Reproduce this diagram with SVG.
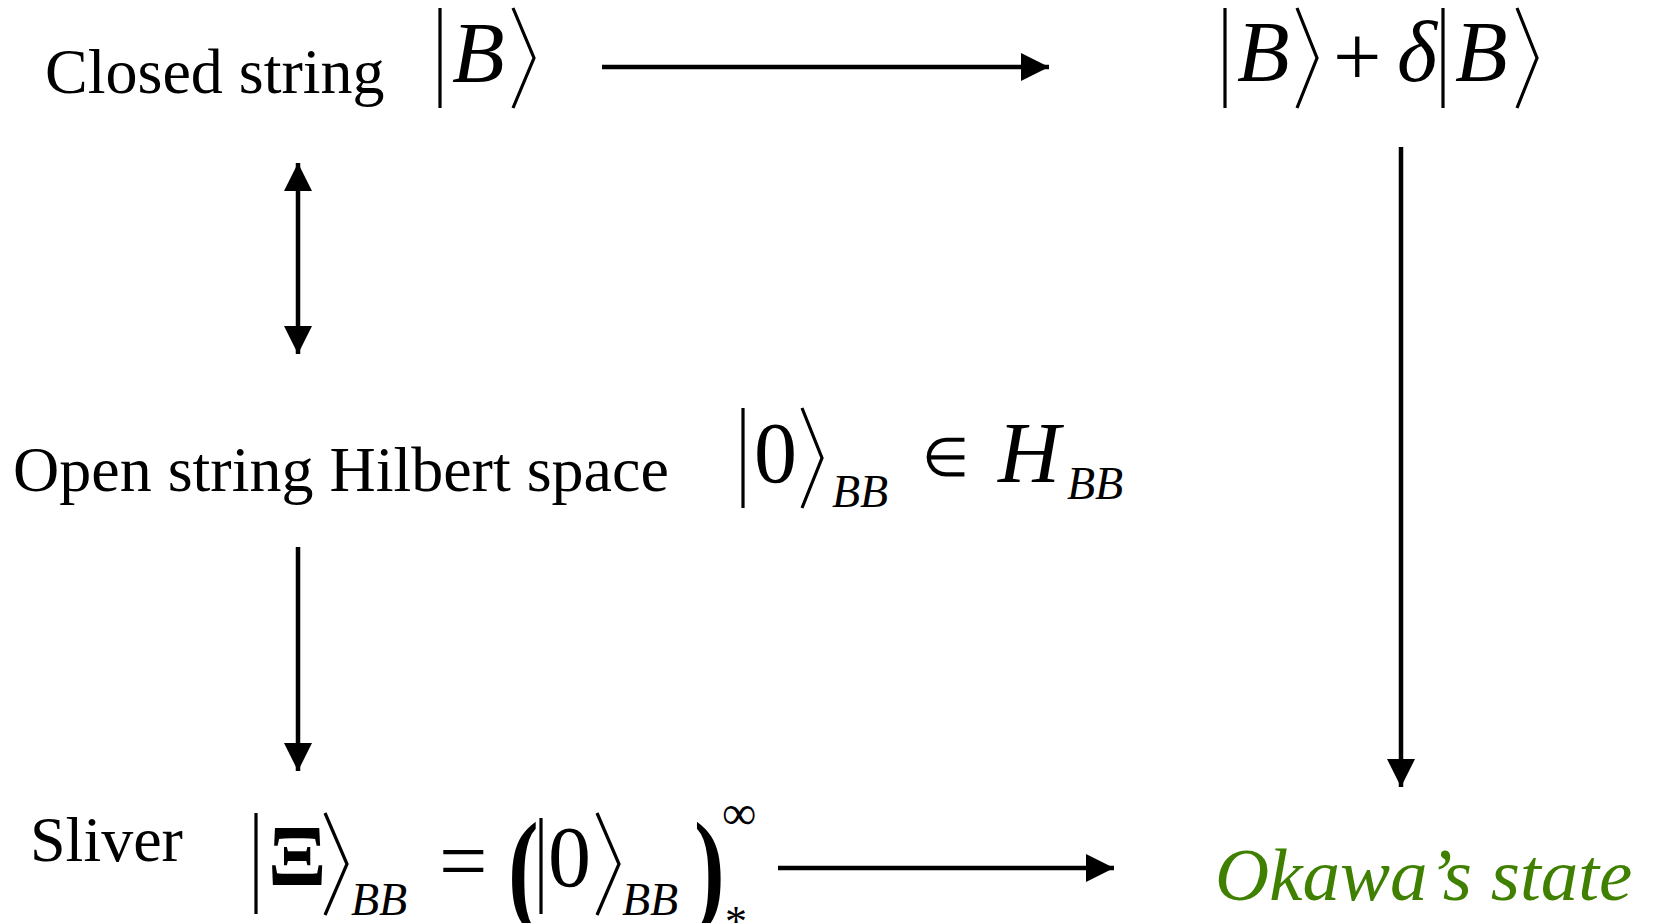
<svg xmlns="http://www.w3.org/2000/svg" width="1656" height="923" viewBox="0 0 1656 923">
<style>
.t{font-family:"Liberation Serif","Times New Roman",serif;fill:#000}
.lbl{font-size:64px}
.m{font-size:86px}
.i{font-style:italic}
.s{font-size:46px;font-style:italic}
.d{fill:none;stroke:#000;stroke-width:3.2;stroke-linejoin:miter}
.c{stroke:#000;stroke-width:4.5;fill:none}
.g{fill:#408000}
</style>
<defs>
<marker id="ah" viewBox="0 0 28 28" refX="28" refY="14" markerWidth="28" markerHeight="28" markerUnits="userSpaceOnUse" orient="auto-start-reverse">
<path d="M0,0 L28,14 L0,28 z" fill="#000"/>
</marker>
</defs>
<rect width="1656" height="923" fill="#fff"/>

<g id="closed-string">
<text class="t lbl" x="45" y="93">Closed string</text>
</g>
<g id="boundary-state">
<line class="d" x1="440" y1="8" x2="440" y2="108"/>
<text class="t m i" x="452" y="82">B</text>
<polyline class="d" points="513,8 534,58 513,108"/>
</g>
<g id="deformed-boundary-state">
<line class="d" x1="1225" y1="8" x2="1225" y2="108"/>
<text class="t m i" x="1237" y="81">B</text>
<polyline class="d" points="1297,8 1317,58 1297,108"/>
<text class="t m" x="1333" y="86">+</text>
<text class="t m i" x="1397" y="81">δ</text>
<line class="d" x1="1443" y1="8" x2="1443" y2="108"/>
<text class="t m i" x="1455" y="81">B</text>
<polyline class="d" points="1517,8 1537,58 1517,108"/>
</g>
<g id="open-string">
<text class="t lbl" x="13" y="491">Open string Hilbert space</text>
</g>
<g id="vacuum">
<line class="d" x1="743" y1="408" x2="743" y2="508"/>
<text class="t m" x="754" y="482">0</text>
<polyline class="d" points="802,408 822,458 802,508"/>
<text class="t s" x="832" y="507">BB</text>
<text class="t" x="922" y="476" font-size="54">∈</text>
<text class="t m i" x="998" y="482">H</text>
<text class="t s" x="1067" y="499">BB</text>
</g>
<g id="sliver">
<text class="t lbl" x="30" y="861">Sliver</text>
<line class="d" x1="256" y1="813" x2="256" y2="914"/>
<text class="t m" x="268" y="885" font-weight="bold">Ξ</text>
<polyline class="d" points="325,813 347,864 325,915"/>
<text class="t s" x="351" y="915">BB</text>
<text class="t" x="439" y="890" font-size="86">=</text>
<text class="t" font-size="128" font-weight="bold" transform="translate(508,910) scale(0.72,1)">(</text>
<line class="d" x1="541" y1="818" x2="541" y2="914"/>
<text class="t m" x="548" y="886">0</text>
<polyline class="d" points="597,813 619,864 597,915"/>
<text class="t s" x="622" y="915">BB</text>
<text class="t" font-size="128" font-weight="bold" transform="translate(694,910) scale(0.72,1)">)</text>
<text class="t" x="722" y="829" font-size="48">∞</text>
<text class="t" x="725" y="936" font-size="44">*</text>
</g>
<g id="okawa-state">
<text class="t g i" x="1215" y="900" font-size="75">Okawa’s state</text>
</g>

<g id="connectors">
<line class="c" x1="602" y1="67" x2="1049" y2="67" marker-end="url(#ah)"/>
<line class="c" x1="298" y1="163" x2="298" y2="354" marker-start="url(#ah)" marker-end="url(#ah)"/>
<line class="c" x1="298" y1="547" x2="298" y2="771" marker-end="url(#ah)"/>
<line class="c" x1="1401" y1="147" x2="1401" y2="787" marker-end="url(#ah)"/>
<line class="c" x1="778" y1="868" x2="1114" y2="868" marker-end="url(#ah)"/>
</g>
</svg>
